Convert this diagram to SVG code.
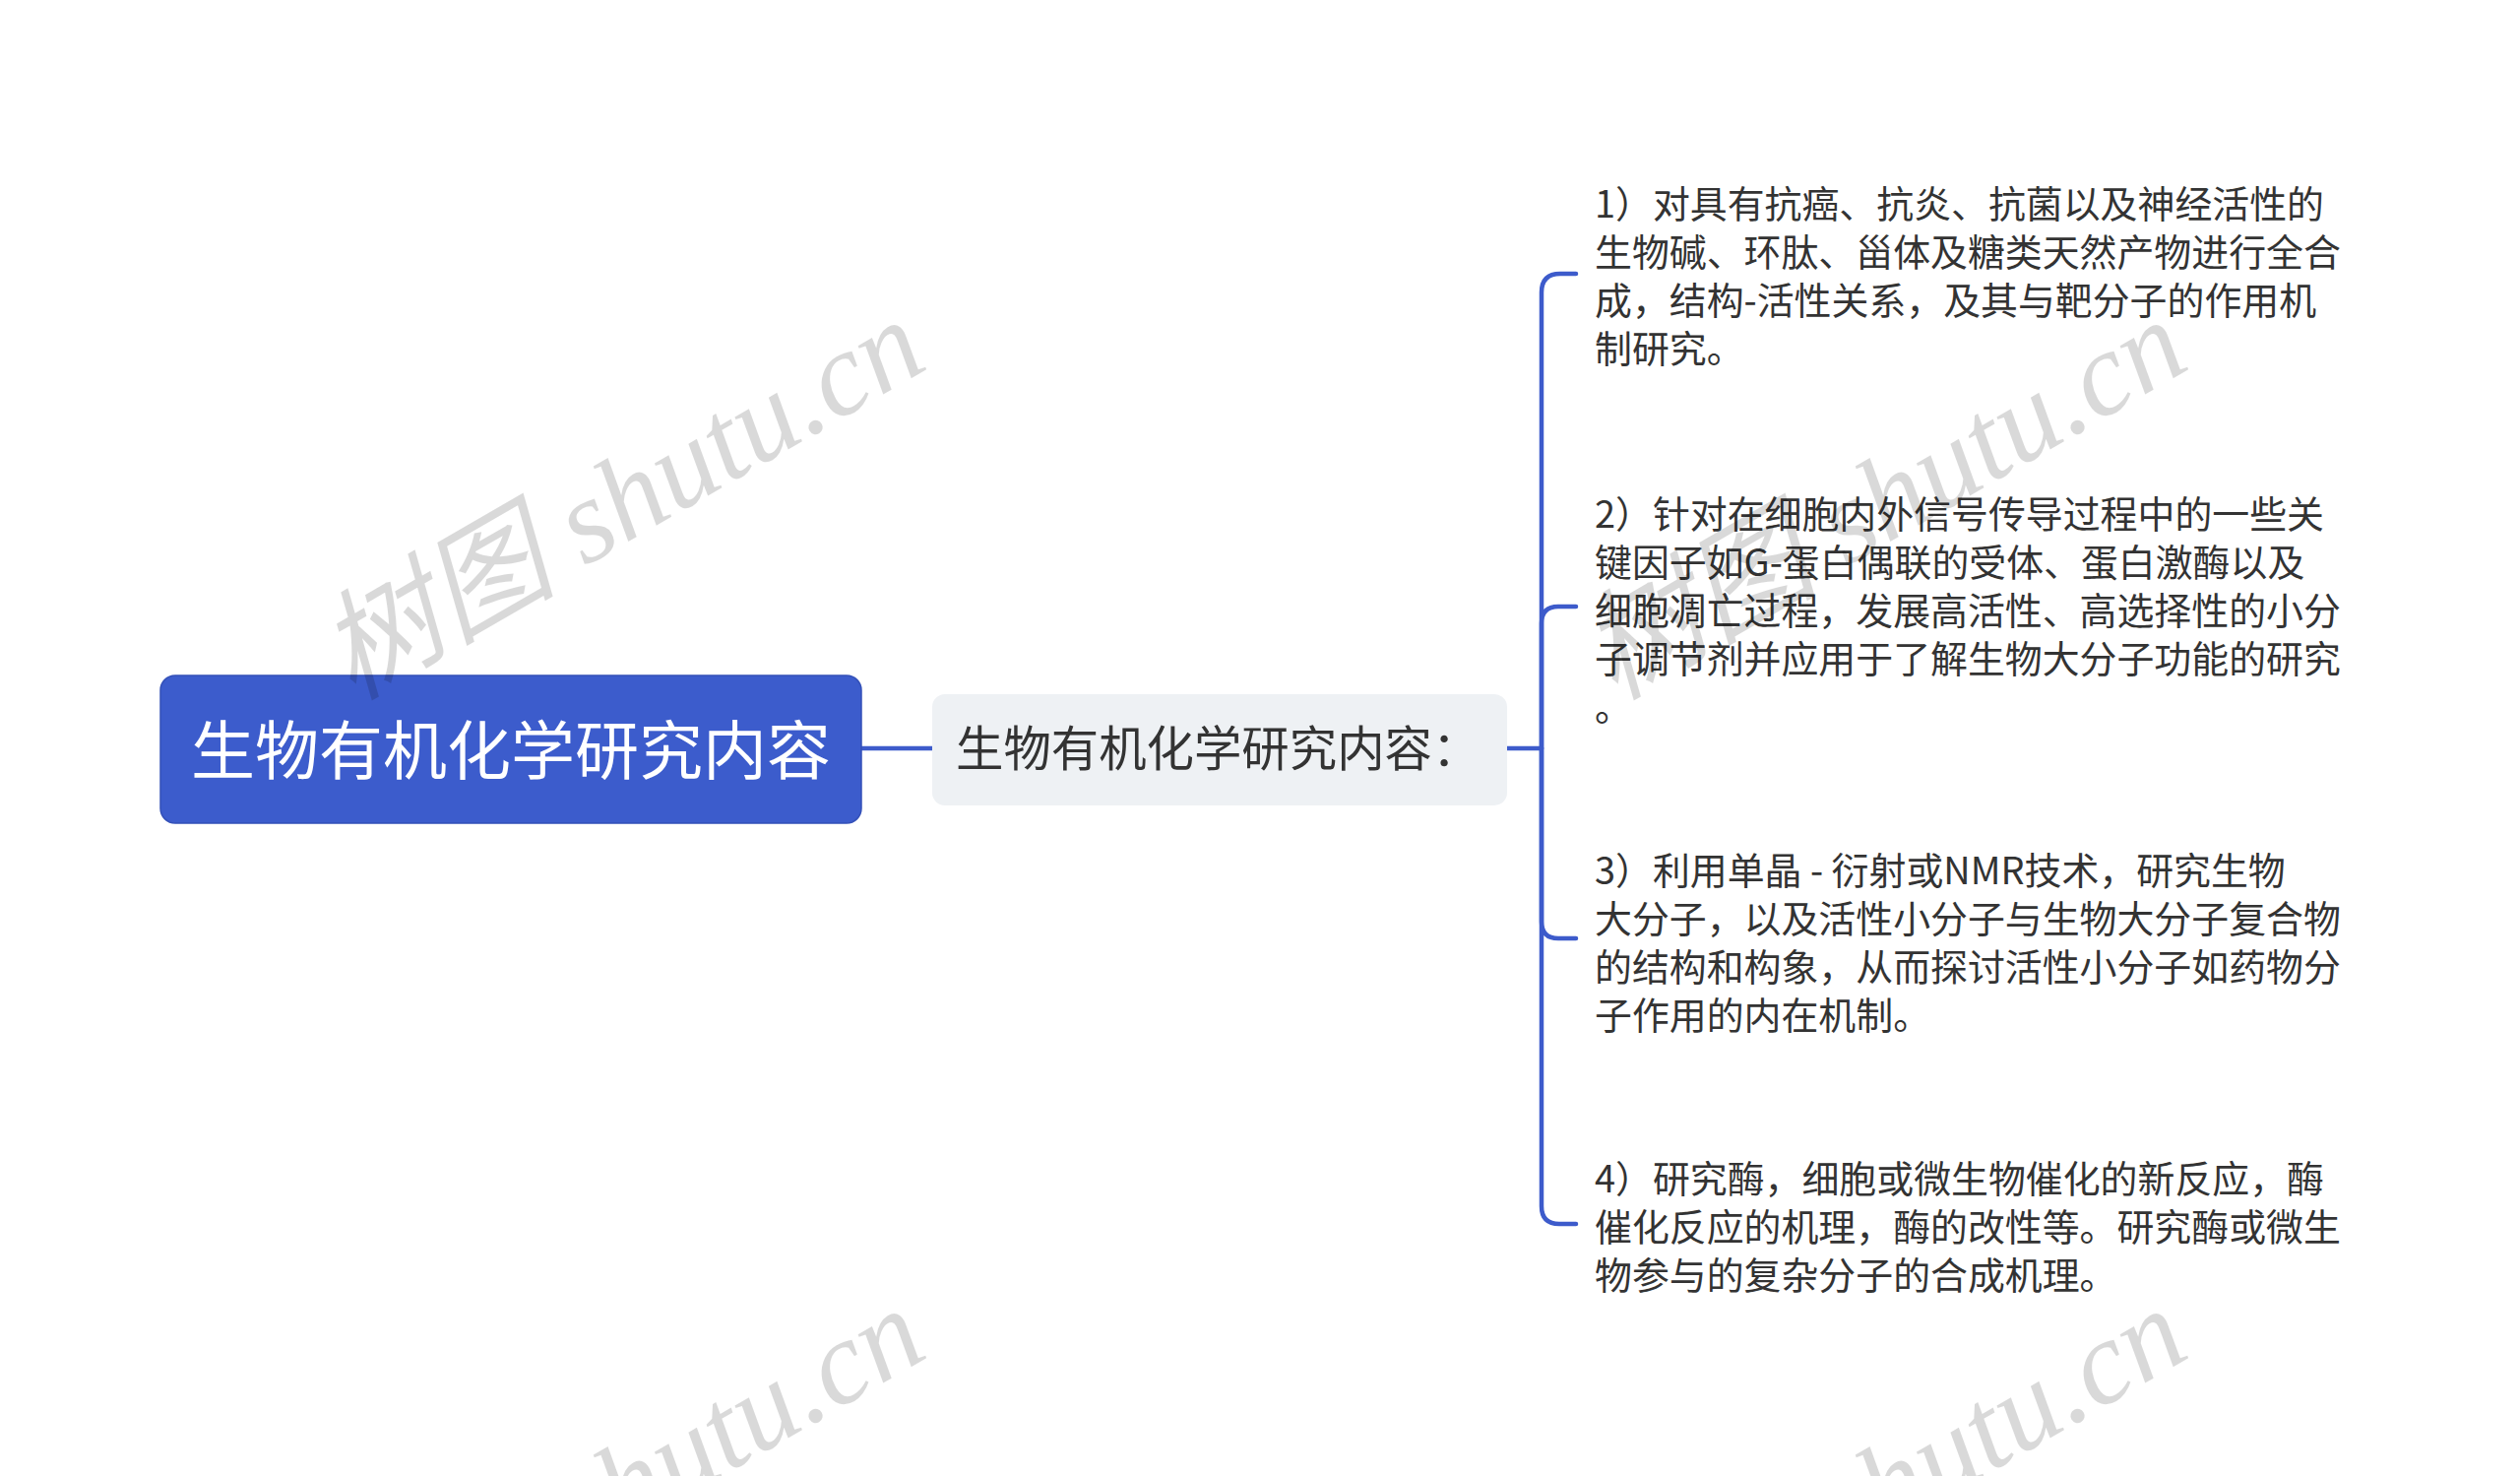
<svg xmlns="http://www.w3.org/2000/svg" width="2560" height="1499" viewBox="0 0 2560 1499">
<style>
.wm{font-family:"Liberation Serif","Noto Sans CJK SC",serif;font-style:italic;font-size:121px;fill:#000;fill-opacity:0.15}
.leaf{font-family:"Noto Sans CJK SC","Noto Sans",sans-serif;font-size:37.9px;fill:#333333}
.conn{fill:none;stroke:#3d5bcb;stroke-width:4.5;stroke-linecap:round;stroke-linejoin:round}
</style>
<rect width="2560" height="1499" fill="#ffffff"/>
<g id="connectors">
<path class="conn" d="M875 760 H947"/>
<path class="conn" d="M1531 760 H1566"/>
<path class="conn" d="M1566 760 V297 Q1566 278 1585 278 H1601"/>
<path class="conn" d="M1566 760 V633 Q1566 616 1583 616 H1601"/>
<path class="conn" d="M1566 760 V936 Q1566 953 1583 953 H1601"/>
<path class="conn" d="M1566 760 V1225 Q1566 1243 1584 1243 H1601"/>
</g>
<g id="root">
<rect x="163" y="686" width="712" height="150" rx="15" fill="#3c5ccc" stroke="#3350b8" stroke-width="1.5"/>
<text x="519" y="785.5" text-anchor="middle" font-family="Noto Sans CJK SC, sans-serif" font-size="65" fill="#ffffff">生物有机化学研究内容</text>
</g>
<g id="sub">
<rect x="947" y="705" width="584" height="113" rx="13" fill="#eef1f4"/>
<text x="971" y="778" font-family="Noto Sans CJK SC, sans-serif" font-size="48.4" fill="#333333">生物有机化学研究内容：</text>
</g>
<g id="leaf1">
<text class="leaf"><tspan x="1620" y="221">1）对具有抗癌、抗炎、抗菌以及神经活性的</tspan><tspan x="1620" y="270">生物碱、环肽、甾体及糖类天然产物进行全合</tspan><tspan x="1620" y="319">成，结构-活性关系，及其与靶分子的作用机</tspan><tspan x="1620" y="368">制研究。</tspan></text>
</g>
<g id="leaf2">
<text class="leaf"><tspan x="1620" y="536">2）针对在细胞内外信号传导过程中的一些关</tspan><tspan x="1620" y="585">键因子如G-蛋白偶联的受体、蛋白激酶以及</tspan><tspan x="1620" y="634">细胞凋亡过程，发展高活性、高选择性的小分</tspan><tspan x="1620" y="683">子调节剂并应用于了解生物大分子功能的研究</tspan><tspan x="1620" y="732">。</tspan></text>
</g>
<g id="leaf3">
<text class="leaf"><tspan x="1620" y="898">3）利用单晶 - 衍射或NMR技术，研究生物</tspan><tspan x="1620" y="947">大分子，以及活性小分子与生物大分子复合物</tspan><tspan x="1620" y="996">的结构和构象，从而探讨活性小分子如药物分</tspan><tspan x="1620" y="1045">子作用的内在机制。</tspan></text>
</g>
<g id="leaf4">
<text class="leaf"><tspan x="1620" y="1211">4）研究酶，细胞或微生物催化的新反应，酶</tspan><tspan x="1620" y="1260">催化反应的机理，酶的改性等。研究酶或微生</tspan><tspan x="1620" y="1309">物参与的复杂分子的合成机理。</tspan></text>
</g>
<g id="watermarks">
<text class="wm" transform="translate(358 712) rotate(-30)">树图 shutu.cn</text>
<text class="wm" transform="translate(1640 712) rotate(-30)">树图 shutu.cn</text>
<text class="wm" transform="translate(358 1716) rotate(-30)">树图 shutu.cn</text>
<text class="wm" transform="translate(1640 1716) rotate(-30)">树图 shutu.cn</text>
</g>
</svg>
